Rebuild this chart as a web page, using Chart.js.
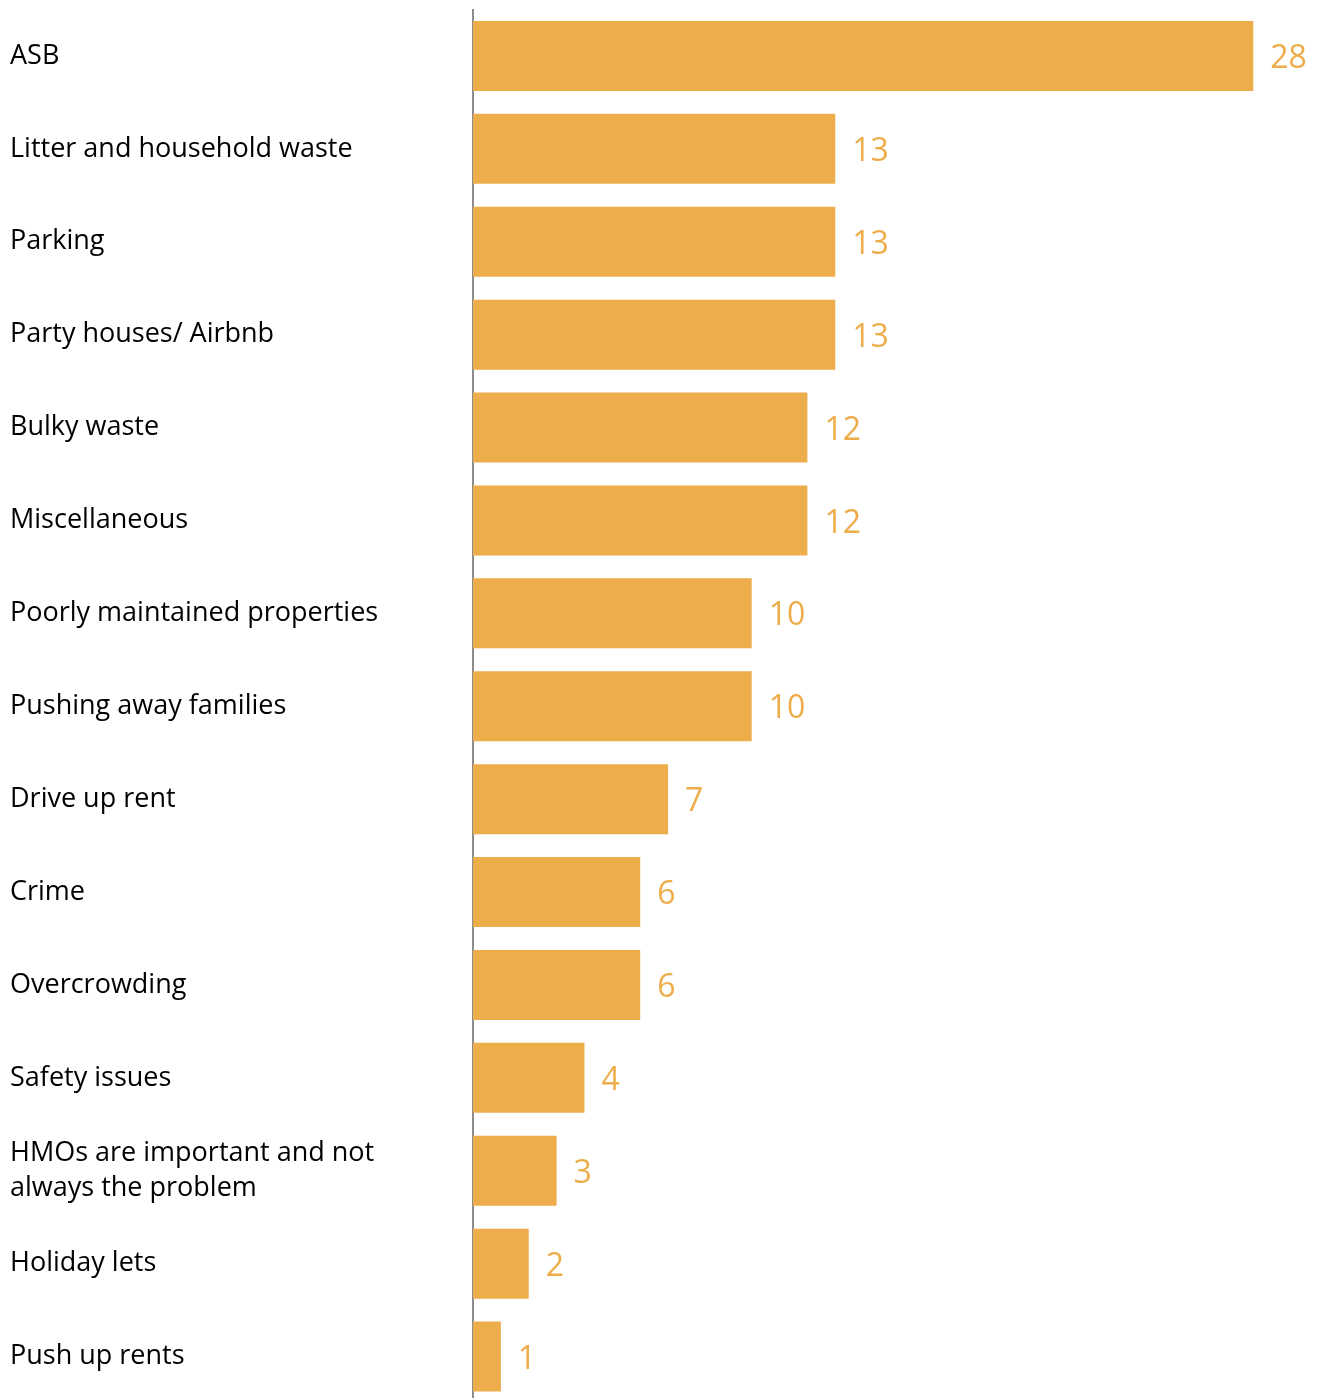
<!DOCTYPE html>
<html>
<head>
<meta charset="utf-8">
<script src="https://cdn.jsdelivr.net/npm/chart.js@4/dist/chart.umd.min.js"></script>
<style>
  html, body { margin: 0; padding: 0; background: #ffffff; overflow: hidden; }
  #wrap { position: relative; width: 1324px; height: 1403px; }
</style>
</head>
<body>
<div id="wrap"><canvas id="chart"></canvas></div>
<script>
// Reported issues and the number of mentions for each
const categories = [
  'ASB',
  'Litter and household waste',
  'Parking',
  'Party houses/ Airbnb',
  'Bulky waste',
  'Miscellaneous',
  'Poorly maintained properties',
  'Pushing away families',
  'Drive up rent',
  'Crime',
  'Overcrowding',
  'Safety issues',
  ['HMOs are important and not', 'always the problem'],
  'Holiday lets',
  'Push up rents'
];
const mentions = [28, 13, 13, 13, 12, 12, 10, 10, 7, 6, 6, 4, 3, 2, 1];

const BAR_COLOR = '#EDAD4A';
const FONT = "'Open Sans', 'Noto Sans', sans-serif";

// Writes each bar's count just past its end
const valueLabels = {
  id: 'valueLabels',
  afterDatasetsDraw(chart) {
    const ctx = chart.ctx;
    const meta = chart.getDatasetMeta(0);
    ctx.save();
    ctx.fillStyle = BAR_COLOR;
    ctx.font = '32px ' + FONT;
    ctx.textAlign = 'left';
    ctx.textBaseline = 'middle';
    meta.data.forEach((bar, i) => {
      ctx.fillText(String(mentions[i]), bar.x + 17, bar.y + 3);
    });
    ctx.restore();
  }
};

new Chart(document.getElementById('chart'), {
  type: 'bar',
  data: {
    labels: categories,
    datasets: [{
      data: mentions,
      backgroundColor: BAR_COLOR,
      borderWidth: 0,
      categoryPercentage: 1,
      barPercentage: 0.754
    }]
  },
  options: {
    indexAxis: 'y',
    responsive: true,
    maintainAspectRatio: false,
    animation: false,
    layout: { padding: { left: 10, right: 15, top: 9.5, bottom: 0 } },
    plugins: {
      legend: { display: false },
      tooltip: { enabled: false }
    },
    scales: {
      x: {
        display: false,
        min: 0,
        max: 30
      },
      y: {
        grid: { display: false },
        border: { display: true, color: '#8c8c8c', width: 2 },
        ticks: {
          crossAlign: 'far',
          color: '#000000',
          font: { family: FONT, size: 27, lineHeight: 1.3 },
          padding: 0
        },
        afterFit(scale) {
          scale.width = 463;
          // labels sit mid-category, so no extra room is needed above/below
          scale.paddingTop = 0;
          scale.paddingBottom = 0;
        }
      }
    }
  },
  plugins: [valueLabels]
});
</script>
</body>
</html>
